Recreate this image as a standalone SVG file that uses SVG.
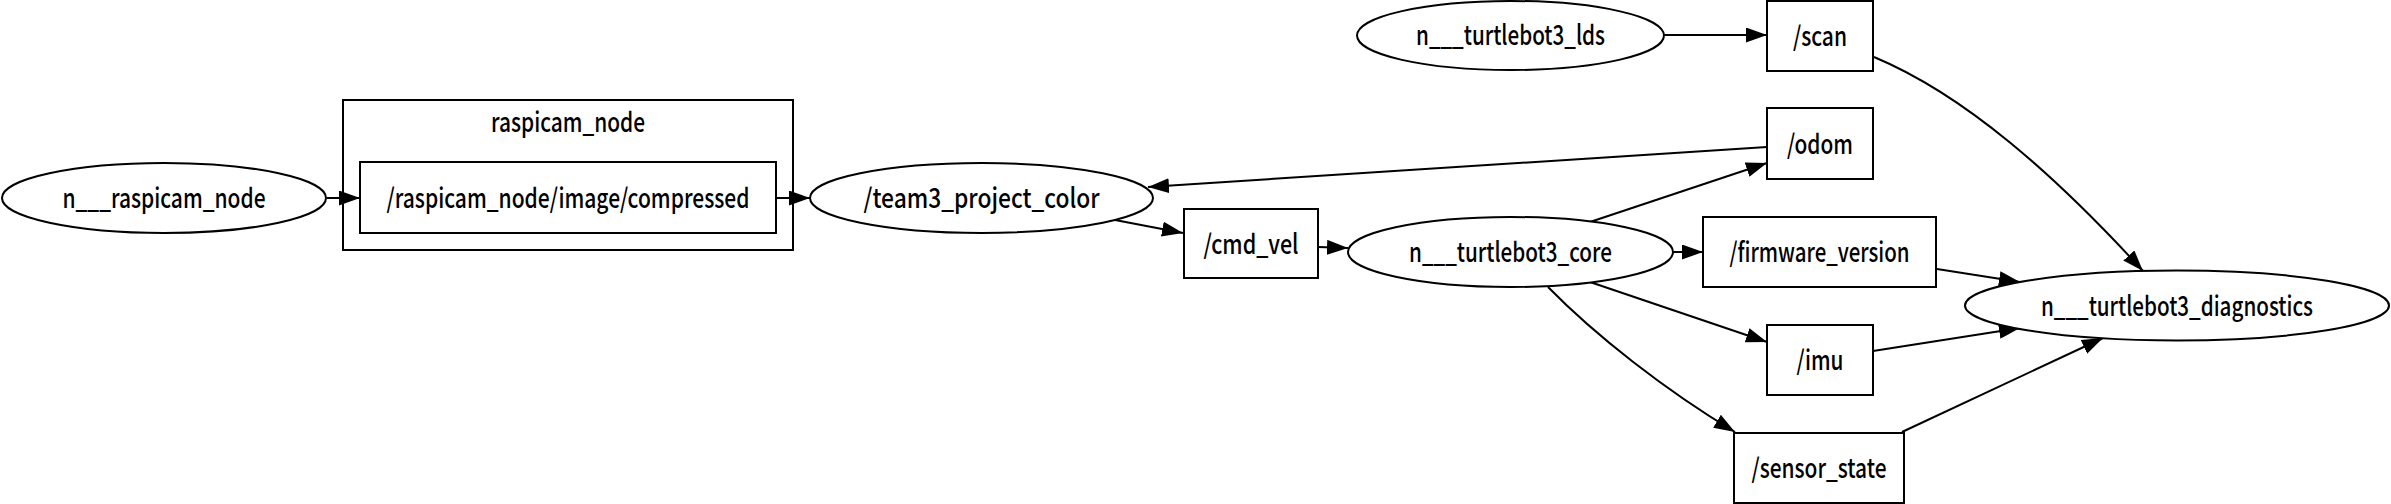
<svg xmlns="http://www.w3.org/2000/svg" width="2391" height="504" viewBox="0 0 2391 504">
<style>
.n{fill:#fff;stroke:#000;stroke-width:2}
.c{fill:none;stroke:#000;stroke-width:2}
.e{fill:none;stroke:#000;stroke-width:2;marker-end:url(#ah)}
text{font-family:"Noto Sans CJK JP","Noto Sans",sans-serif;font-size:27px;font-weight:500;fill:#000;text-anchor:middle}
</style>
<defs>
<marker id="ah" markerUnits="userSpaceOnUse" markerWidth="21" markerHeight="15" refX="21" refY="7.5" orient="auto"><path d="M0,0 L21,7.5 L0,15 z" fill="#000"/></marker>
</defs>
<rect width="2391" height="504" fill="#fff"/>
<g id="cluster_raspicam_node"><rect class="c" x="343" y="100" width="450" height="150"/><text x="568" y="132" textLength="154" lengthAdjust="spacingAndGlyphs">raspicam_node</text></g>
<g id="connectors">
<path class="e" d="M327,198 L360,198"/>
<path class="e" d="M776,198 L810,198"/>
<path class="e" d="M1115,220 L1183,233"/>
<path class="e" d="M1767,147 L1148,187"/>
<path class="e" d="M1318,247 L1348,248"/>
<path class="e" d="M1664,35 L1767,35"/>
<path class="e" d="M1590,222 L1767,163"/>
<path class="e" d="M1673,252 L1703,252"/>
<path class="e" d="M1590,282 L1767,342"/>
<path class="e" d="M1548,287 C1595,335 1665,390 1735,432"/>
<path class="e" d="M1874,57 C1965,95 2055,175 2143,271"/>
<path class="e" d="M1937,269 L2020,282"/>
<path class="e" d="M1873,351 L2020,328"/>
<path class="e" d="M1902,432 L2103,338"/>
</g>
<g id="n___raspicam_node"><ellipse class="n" cx="164" cy="198" rx="162" ry="35"/><text x="164" y="208" textLength="203" lengthAdjust="spacingAndGlyphs">n___raspicam_node</text></g>
<g id="t_raspicam_node_image_compressed"><rect class="n" x="360" y="162" width="416" height="71"/><text x="568" y="208" textLength="363" lengthAdjust="spacingAndGlyphs">/raspicam_node/image/compressed</text></g>
<g id="team3_project_color"><ellipse class="n" cx="981.5" cy="198" rx="171.5" ry="35"/><text x="981.5" y="208" textLength="236" lengthAdjust="spacingAndGlyphs">/team3_project_color</text></g>
<g id="t_cmd_vel"><rect class="n" x="1184" y="209" width="134" height="69"/><text x="1251" y="254" textLength="95" lengthAdjust="spacingAndGlyphs">/cmd_vel</text></g>
<g id="n___turtlebot3_core"><ellipse class="n" cx="1510.5" cy="252" rx="162.5" ry="35"/><text x="1510.5" y="262" textLength="203" lengthAdjust="spacingAndGlyphs">n___turtlebot3_core</text></g>
<g id="n___turtlebot3_lds"><ellipse class="n" cx="1510.5" cy="35.5" rx="153.5" ry="34.5"/><text x="1510.5" y="45" textLength="189" lengthAdjust="spacingAndGlyphs">n___turtlebot3_lds</text></g>
<g id="t_scan"><rect class="n" x="1767" y="1" width="106" height="70"/><text x="1820" y="46" textLength="54" lengthAdjust="spacingAndGlyphs">/scan</text></g>
<g id="t_odom"><rect class="n" x="1767" y="108" width="106" height="71"/><text x="1820" y="154" textLength="66" lengthAdjust="spacingAndGlyphs">/odom</text></g>
<g id="t_firmware_version"><rect class="n" x="1703" y="217" width="233" height="70"/><text x="1819.5" y="262" textLength="180" lengthAdjust="spacingAndGlyphs">/firmware_version</text></g>
<g id="t_imu"><rect class="n" x="1767" y="325" width="106" height="70"/><text x="1820" y="370" textLength="47" lengthAdjust="spacingAndGlyphs">/imu</text></g>
<g id="t_sensor_state"><rect class="n" x="1734" y="433" width="170" height="70"/><text x="1819" y="478" textLength="135" lengthAdjust="spacingAndGlyphs">/sensor_state</text></g>
<g id="n___turtlebot3_diagnostics"><ellipse class="n" cx="2177" cy="305.5" rx="212" ry="35"/><text x="2177" y="315.5" textLength="272" lengthAdjust="spacingAndGlyphs">n___turtlebot3_diagnostics</text></g>
</svg>
